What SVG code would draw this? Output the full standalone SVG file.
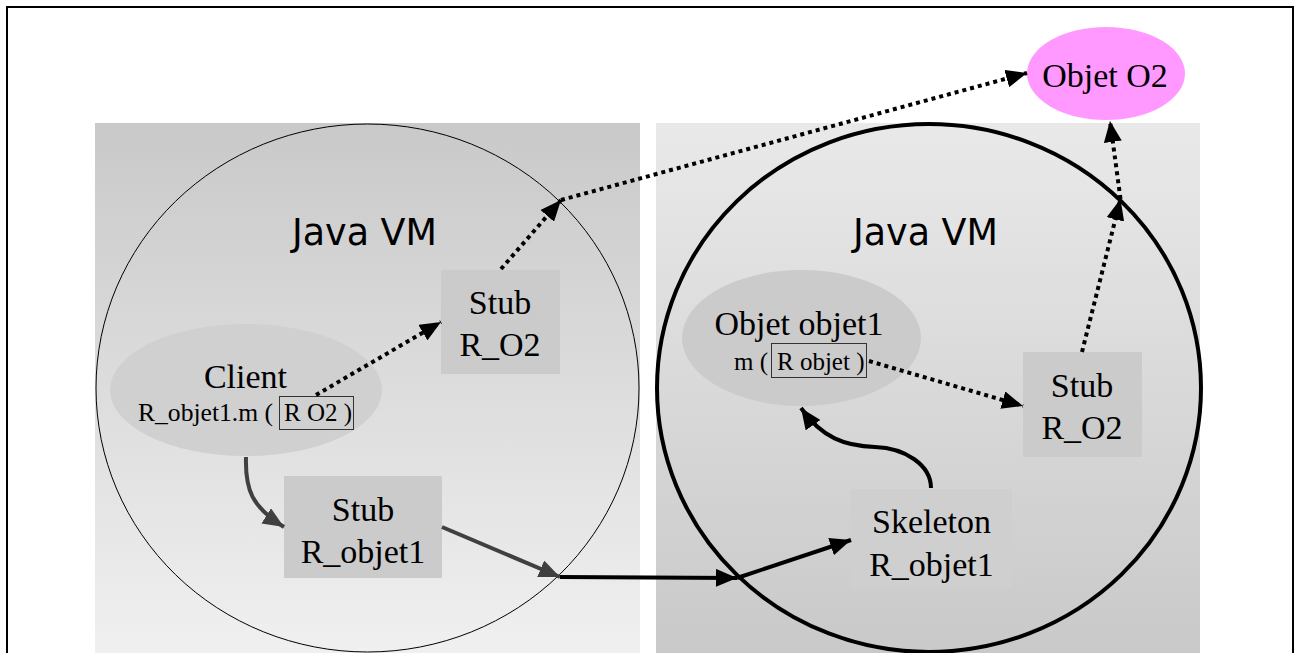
<svg xmlns="http://www.w3.org/2000/svg" width="1298" height="653" viewBox="0 0 1298 653">
<defs>
<linearGradient id="gL" x1="0" y1="0" x2="0" y2="1">
<stop offset="0" stop-color="#c9c9c9"/>
<stop offset="1" stop-color="#f0f0f0"/>
</linearGradient>
<linearGradient id="gR" x1="0" y1="0" x2="0" y2="1">
<stop offset="0" stop-color="#e9e9e9"/>
<stop offset="1" stop-color="#c9c9c9"/>
</linearGradient>
<marker id="ak" markerUnits="userSpaceOnUse" markerWidth="22" markerHeight="18" refX="21" refY="9" orient="auto">
<path d="M0,0 L21,9 L0,18 z" fill="#000"/>
</marker>
<marker id="ag" markerUnits="userSpaceOnUse" markerWidth="22" markerHeight="18" refX="21" refY="9" orient="auto">
<path d="M0,0 L21,9 L0,18 z" fill="#404040"/>
</marker>
<style>
.t{font-family:"Liberation Serif","Times New Roman",serif;font-size:34px;fill:#000;text-anchor:middle}
.s{font-family:"Liberation Serif","Times New Roman",serif;font-size:25px;fill:#000}
.vm{font-family:"DejaVu Sans",sans-serif;font-size:37px;fill:#000}
.box{fill:#cbcbcb}
.ib{fill:none;stroke:#333;stroke-width:1}
.dot{fill:none;stroke:#000;stroke-width:4;stroke-dasharray:4 4}
.sk{fill:none;stroke:#000;stroke-width:4}
.sg{fill:none;stroke:#404040;stroke-width:4}
</style>
</defs>
<rect x="0" y="0" width="1298" height="653" fill="#fff"/>
<rect x="7" y="7" width="1286" height="660" fill="none" stroke="#000" stroke-width="2"/>
<g id="vm-left">
<rect x="95" y="123" width="545" height="530" fill="url(#gL)"/>
<ellipse cx="367.5" cy="388" rx="271.5" ry="264" fill="none" stroke="#000" stroke-width="1"/>
<text class="vm" x="292" y="245" textLength="145" lengthAdjust="spacingAndGlyphs">Java VM</text>
</g>
<g id="vm-right">
<rect x="656" y="123" width="544" height="530" fill="url(#gR)"/>
<ellipse cx="929" cy="388" rx="272" ry="264" fill="none" stroke="#000" stroke-width="4"/>
<text class="vm" x="853" y="245" textLength="145" lengthAdjust="spacingAndGlyphs">Java VM</text>
</g>
<g id="client">
<ellipse cx="246" cy="390" rx="136" ry="66" fill="#d0d0d0"/>
<text class="t" x="245.5" y="388">Client</text>
<text class="s" x="138" y="421" textLength="135" lengthAdjust="spacingAndGlyphs">R_objet1.m (</text>
<rect class="ib" x="279.5" y="396.5" width="74" height="33"/>
<text class="s" x="284" y="421">R O2 )</text>
</g>
<g id="stub-ro2-left">
<rect class="box" x="441" y="270" width="119" height="104"/>
<text class="t" x="500" y="314">Stub</text>
<text class="t" x="500" y="356">R_O2</text>
</g>
<g id="stub-robjet1">
<rect class="box" x="284" y="476" width="158" height="102"/>
<text class="t" x="363" y="521">Stub</text>
<text class="t" x="363" y="563">R_objet1</text>
</g>
<g id="objet-objet1">
<ellipse cx="801.5" cy="338" rx="119.5" ry="68" fill="#cbcbcb"/>
<text class="t" x="799" y="335">Objet objet1</text>
<text class="s" x="734" y="370">m (</text>
<rect class="ib" x="771.5" y="343.5" width="95" height="34"/>
<text class="s" x="777" y="370">R objet )</text>
</g>
<g id="stub-ro2-right">
<rect class="box" x="1023" y="352" width="119" height="105"/>
<text class="t" x="1082" y="397">Stub</text>
<text class="t" x="1082" y="439">R_O2</text>
</g>
<g id="skeleton">
<rect x="851" y="489" width="161" height="99" fill="#cfcfcf"/>
<text class="t" x="931.5" y="533">Skeleton</text>
<text class="t" x="931.5" y="576">R_objet1</text>
</g>
<g id="objet-o2">
<ellipse cx="1106" cy="73.5" rx="79" ry="46.5" fill="#ff99ff"/>
<text class="t" x="1105" y="87">Objet O2</text>
</g>
<g id="connectors">
<path class="dot" d="M316,395 L441,322" marker-end="url(#ak)"/>
<path class="dot" d="M501,269 L561,200" marker-end="url(#ak)"/>
<path class="dot" d="M561,200 L1027,73" marker-end="url(#ak)"/>
<path class="dot" d="M869,361 L1023,406" marker-end="url(#ak)"/>
<path class="dot" d="M1082,352 L1120.5,199" marker-end="url(#ak)"/>
<path class="dot" d="M1120.5,199 L1110,121" marker-end="url(#ak)"/>
<path class="sg" d="M246,457 C245,490 252,507 284,527" marker-end="url(#ag)"/>
<path class="sg" d="M442,527 L560,577" marker-end="url(#ag)"/>
<path class="sk" d="M560,577 L737,578" marker-end="url(#ak)"/>
<path class="sk" d="M737,578 L851,540" marker-end="url(#ak)"/>
<path class="sk" d="M931,488 C931,465 905,448 875,447 C845,446 822,438 801,408" marker-end="url(#ak)"/>
</g>
</svg>
